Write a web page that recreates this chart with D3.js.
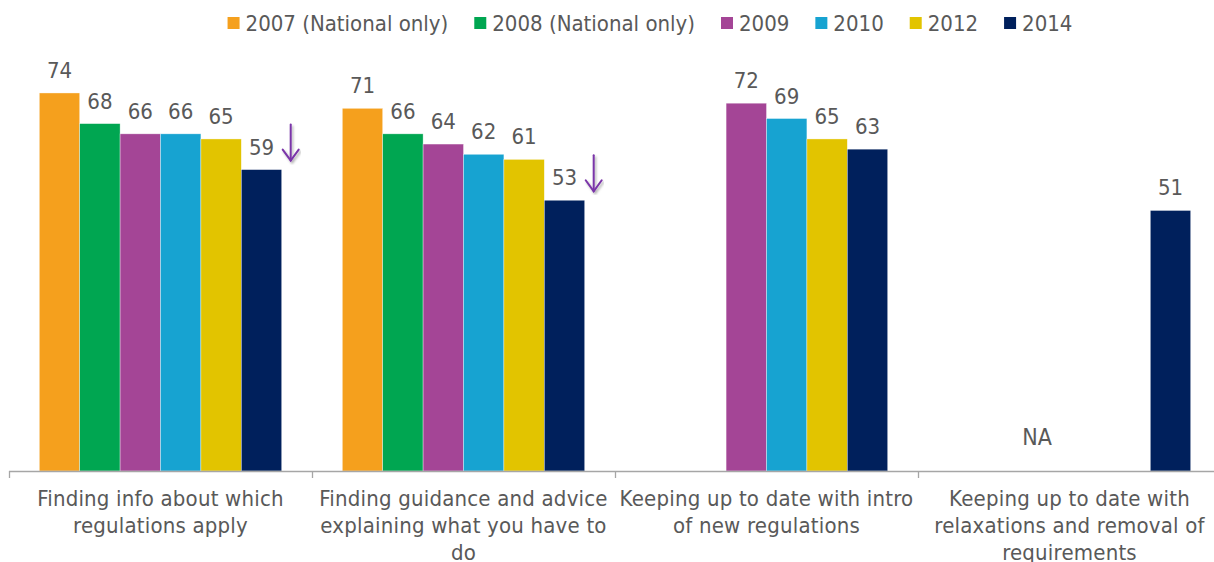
<!DOCTYPE html>
<html>
<head>
<meta charset="utf-8">
<script src="https://cdn.jsdelivr.net/npm/d3@7"></script>
<style>
    body { margin: 0; background: #fff; }
    svg text { font-family: "DejaVu Sans Condensed", "DejaVu Sans", sans-serif; font-stretch: condensed; fill: #595959; }
</style>
</head>
<body>
<div id="chart"></div>
<script>
// categories (lines of each wrapped label)
const categories = [
    ["Finding info about which", "regulations apply"],
    ["Finding guidance and advice", "explaining what you have to", "do"],
    ["Keeping up to date with intro", "of new regulations"],
    ["Keeping up to date with", "relaxations and removal of", "requirements"]
];

const years = ["2007", "2008", "2009", "2010", "2012", "2014"];
const legendLabels = ["2007 (National only)", "2008 (National only)", "2009", "2010", "2012", "2014"];
const colors = ["#F5A01D", "#00A651", "#A44596", "#17A3D1", "#E2C400", "#00205C"];

// one array per year, one value per category (null = not asked)
const values2007 = [74, 71, null, null];
const values2008 = [68, 66, null, null];
const values2009 = [66, 64, 72, null];
const values2010 = [66, 62, 69, null];
const values2012 = [65, 61, 65, null];
const values2014 = [59, 53, 63, 51];

// categories with a significant drop arrow next to 2014
const dropArrows = [true, true, false, false];
// categories marked NA
const naLabels = [null, null, null, "NA"];

const width = 1214;
const height = 562;

const series = [values2007, values2008, values2009, values2010, values2012, values2014];
const catIndex = d3.range(categories.length);

const svg = d3.select("#chart").append("svg")
    .attr("width", width)
    .attr("height", height);

// scales
const x0 = d3.scaleBand()
    .domain(catIndex)
    .range([9, 1221])
    .padding(0);

const x1 = d3.scaleBand()
    .domain(years)
    .range([0, x0.bandwidth()])
    .paddingInner(0)
    .paddingOuter(0.75);

const y = d3.scaleLinear()
    .domain([0, 92.2])
    .range([471, 0]);

const color = d3.scaleOrdinal().domain(years).range(colors);

// bars
const bars = [];
series.forEach((vals, i) => {
    vals.forEach((v, c) => {
        if (v != null) bars.push({ year: years[i], cat: c, value: v });
    });
});

const plot = svg.append("g");

plot.selectAll("rect")
    .data(bars)
    .join("rect")
    .attr("x", d => x0(d.cat) + x1(d.year))
    .attr("y", d => y(d.value))
    .attr("width", x1.bandwidth())
    .attr("height", d => y(0) - y(d.value))
    .style("fill", d => color(d.year))
    .style("stroke", "#fff")
    .style("stroke-opacity", 0.6)
    .style("stroke-width", 0.6);

// value labels
plot.selectAll("text.value")
    .data(bars)
    .join("text")
    .attr("class", "value")
    .attr("x", d => x0(d.cat) + x1(d.year) + x1.bandwidth() / 2)
    .attr("y", d => y(d.value) - 15)
    .attr("text-anchor", "middle")
    .style("font-size", "22px")
    .text(d => d.value);

// NA label
catIndex.filter(c => naLabels[c]).forEach(c => {
    plot.append("text")
        .attr("x", x0(c) + x1("2009") + x1.bandwidth() * 0.2)
        .attr("y", y(5))
        .attr("text-anchor", "middle")
        .style("font-size", "23px")
        .text(naLabels[c]);
});

// drop arrows
const defs = svg.append("defs");
defs.append("filter").attr("id", "shadow")
    .append("feDropShadow")
    .attr("dx", 1.5).attr("dy", 2).attr("stdDeviation", 1.2)
    .attr("flood-color", "#000").attr("flood-opacity", 0.3);

catIndex.filter(c => dropArrows[c]).forEach(c => {
    const v = values2014[c];
    const ax = x0(c) + x1("2014") + x1.bandwidth() + 9;
    const top = y(v) - 45;
    const bottom = y(v) - 9;
    const g = plot.append("g")
        .attr("filter", "url(#shadow)")
        .style("stroke", "#7A35A8")
        .style("stroke-width", 2)
        .style("fill", "none")
        .style("stroke-linecap", "round");
    g.append("line").attr("x1", ax).attr("x2", ax).attr("y1", top).attr("y2", bottom);
    g.append("path").attr("d", `M${ax - 8},${bottom - 11} L${ax},${bottom} L${ax + 8},${bottom - 11}`);
});

// x axis
svg.append("line")
    .attr("x1", x0.range()[0]).attr("x2", width)
    .attr("y1", y(0) + 0.5).attr("y2", y(0) + 0.5)
    .style("stroke", "#a6a6a6")
    .style("stroke-width", 1.3);

svg.selectAll("line.tick")
    .data(catIndex)
    .join("line")
    .attr("class", "tick")
    .attr("x1", c => x0(c) + 0.5).attr("x2", c => x0(c) + 0.5)
    .attr("y1", y(0)).attr("y2", y(0) + 7)
    .style("stroke", "#a6a6a6")
    .style("stroke-width", 1.3);

// category labels
const catLabels = svg.selectAll("text.cat")
    .data(catIndex)
    .join("text")
    .attr("class", "cat")
    .attr("text-anchor", "middle")
    .style("font-size", "22px")
    .style("letter-spacing", "0.2px")
    .attr("transform", c => `translate(${x0(c) + x0.bandwidth() / 2},506)`);

catLabels.selectAll("tspan")
    .data(c => categories[c])
    .join("tspan")
    .attr("x", 0)
    .attr("y", (d, i) => i * 27)
    .text(d => d);

// legend
const legend = svg.append("g");
const items = legend.selectAll("g")
    .data(years)
    .join("g");

items.append("rect")
    .attr("width", 12)
    .attr("height", 12)
    .attr("y", 17)
    .style("fill", d => color(d));

items.append("text")
    .attr("x", 18)
    .attr("y", 31)
    .style("font-size", "22px")
    .text((d, i) => legendLabels[i]);

const gap = 26;
let offset = 0;
items.each(function () {
    const w = d3.select(this).select("text").node().getComputedTextLength();
    d3.select(this).attr("transform", `translate(${offset},0)`);
    offset += 18 + w + gap;
});
const legendWidth = offset - gap;
legend.attr("transform", `translate(${650 - legendWidth / 2},0)`);
</script>
</body>
</html>
